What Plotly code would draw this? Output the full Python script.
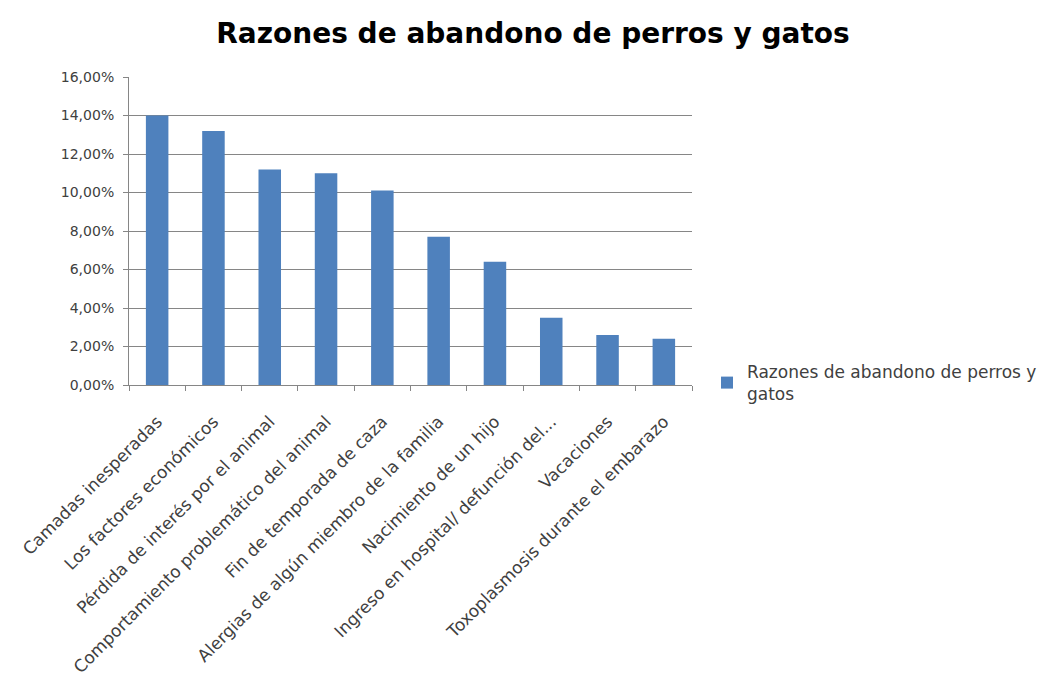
import plotly.graph_objects as go

categories = [
    "Camadas inesperadas",
    "Los factores económicos",
    "Pérdida de interés por el animal",
    "Comportamiento problemático del animal",
    "Fin de temporada de caza",
    "Alergias de algún miembro de la familia",
    "Nacimiento de un hijo",
    "Ingreso en hospital/ defunción del...",
    "Vacaciones",
    "Toxoplasmosis durante el embarazo",
]
values = [0.140, 0.132, 0.112, 0.110, 0.101, 0.077, 0.064, 0.035, 0.026, 0.024]
series_name = "Razones de abandono de perros y<br>gatos"
y_ticks = [0, 0.02, 0.04, 0.06, 0.08, 0.10, 0.12, 0.14, 0.16]

FONT = "DejaVu Sans, Verdana, sans-serif"

fig = go.Figure()
fig.add_trace(go.Bar(
    x=categories, y=values, name=series_name,
    marker=dict(color="#4F81BD", line=dict(width=0)),
    showlegend=True,
))

fig.update_layout(
    width=1055, height=688,
    paper_bgcolor="white", plot_bgcolor="white",
    separators=",.",
    margin=dict(l=121, r=371, t=69, b=311),
    bargap=0.6,
    font=dict(family=FONT, color="#404040", size=14),
    title=dict(
        text="<b>Razones de abandono de perros y gatos</b>",
        x=525 / 1055, xanchor="center", xref="container",
        y=1 - 25 / 688, yanchor="middle", yref="container",
        font=dict(family=FONT, size=28, color="#000000"),
    ),
    legend=dict(
        xref="container", yref="container",
        x=699 / 1055, y=1 - 375 / 688, xanchor="left", yanchor="middle",
        font=dict(size=17, color="#404040"),
        itemsizing="constant",
        itemwidth=30,
        bgcolor="rgba(0,0,0,0)",
    ),
    xaxis=dict(
        type="category",
        tickangle=-45,
        tickson="boundaries",
        ticks="outside", ticklen=5, tickcolor="#868686",
        ticklabelstandoff=19,
        showline=True, linecolor="#868686", linewidth=1,
        showgrid=False,
        tickfont=dict(size=17, color="#404040"),
    ),
    yaxis=dict(
        range=[0, 0.16],
        tickvals=y_ticks,
        tickformat=".2%",
        ticks="outside", ticklen=5, tickcolor="#868686",
        ticklabelstandoff=6,
        showline=True, linecolor="#868686", linewidth=1,
        showgrid=True, gridcolor="#868686", gridwidth=1,
        zeroline=False,
        tickfont=dict(size=14, color="#404040"),
    ),
)

fig.write_html("out.html")
